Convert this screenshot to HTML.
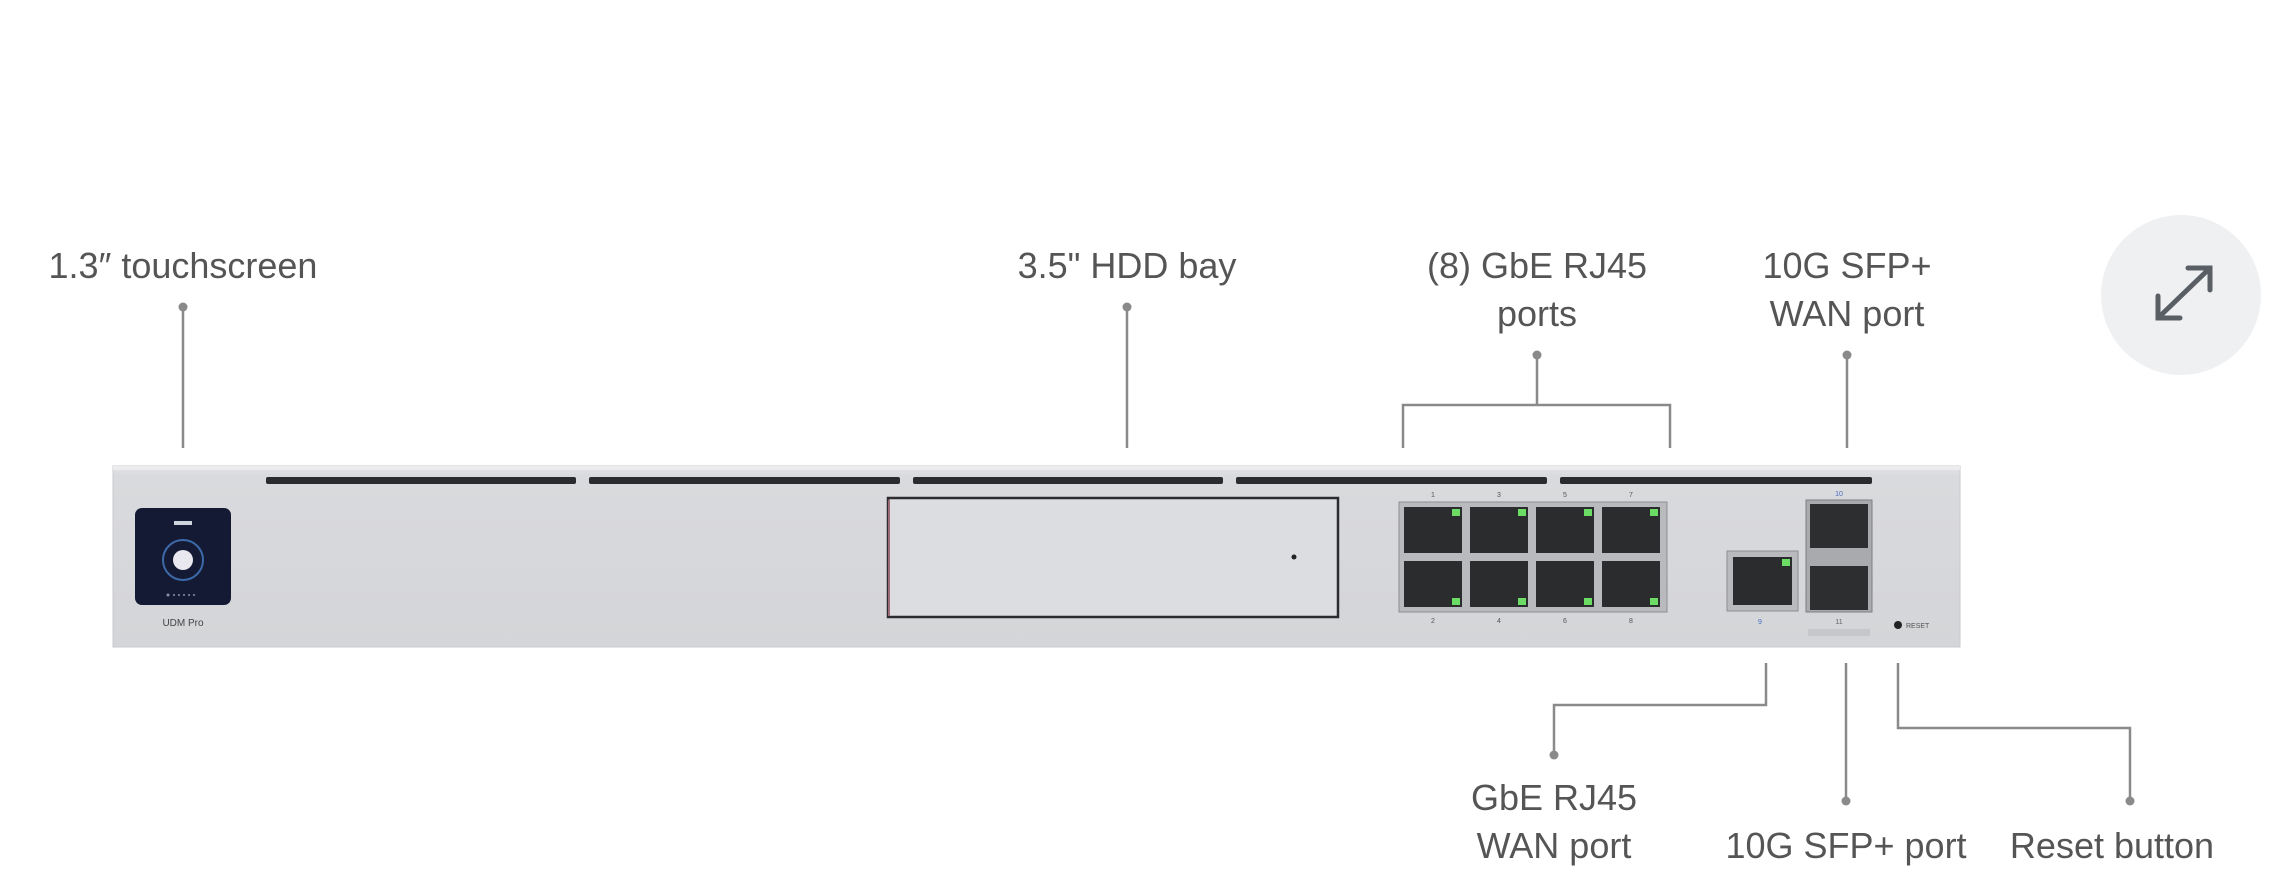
<!DOCTYPE html>
<html><head><meta charset="utf-8"><style>
html,body{margin:0;padding:0;background:#fff;width:2275px;height:894px;overflow:hidden}
svg{display:block}
text{font-family:"Liberation Sans",sans-serif;fill:#555}
</style></head><body>
<svg width="2275" height="894" viewBox="0 0 2275 894" xmlns="http://www.w3.org/2000/svg">
<defs>
<linearGradient id="dev" x1="0" y1="0" x2="0" y2="1">
<stop offset="0" stop-color="#e6e7ea"/><stop offset="0.05" stop-color="#d9dadd"/><stop offset="1" stop-color="#d4d5d8"/>
</linearGradient>
</defs>
<!-- labels -->
<g font-size="36" text-anchor="middle">
<text x="183" y="278">1.3″ touchscreen</text>
<text x="1127" y="278">3.5" HDD bay</text>
<text x="1537" y="278">(8) GbE RJ45</text>
<text x="1537" y="326">ports</text>
<text x="1847" y="278">10G SFP+</text>
<text x="1847" y="326">WAN port</text>
<text x="1554" y="810">GbE RJ45</text>
<text x="1554" y="858">WAN port</text>
<text x="1846" y="858">10G SFP+ port</text>
<text x="2112" y="858">Reset button</text>
</g>
<!-- connectors -->
<g stroke="#8a8a8a" stroke-width="2.5" fill="none">
<line x1="183" y1="307" x2="183" y2="448"/>
<line x1="1127" y1="307" x2="1127" y2="448"/>
<polyline points="1537,355 1537,405"/>
<polyline points="1403,448 1403,405 1670,405 1670,448"/>
<line x1="1847" y1="355" x2="1847" y2="448"/>
<polyline points="1766,663 1766,705 1554,705 1554,755"/>
<line x1="1846" y1="663" x2="1846" y2="801"/>
<polyline points="1898,663 1898,728 2130,728 2130,801"/>
</g>
<g fill="#8a8a8a">
<circle cx="183" cy="307" r="4.5"/><circle cx="1127" cy="307" r="4.5"/>
<circle cx="1537" cy="355" r="4.5"/><circle cx="1847" cy="355" r="4.5"/>
<circle cx="1554" cy="755" r="4.5"/><circle cx="1846" cy="801" r="4.5"/><circle cx="2130" cy="801" r="4.5"/>
</g>
<!-- expand button -->
<circle cx="2181" cy="295" r="80" fill="#eff0f2"/>
<g stroke="#5a5f66" stroke-width="5" fill="none" stroke-linecap="round">
<line x1="2158" y1="318" x2="2210" y2="268"/>
<polyline points="2188,268 2210,268 2210,290"/>
<polyline points="2158,296 2158,318 2180,318"/>
</g>
<!-- device -->
<rect x="113" y="466" width="1847" height="181" fill="url(#dev)" stroke="#c9cacd" stroke-width="1"/>
<rect x="113" y="466" width="1847" height="4" fill="#ececee"/>
<g fill="#2a2b2e">
<rect x="266" y="477" width="310" height="7" rx="2"/>
<rect x="589" y="477" width="311" height="7" rx="2"/>
<rect x="913" y="477" width="310" height="7" rx="2"/>
<rect x="1236" y="477" width="311" height="7" rx="2"/>
<rect x="1560" y="477" width="312" height="7" rx="2"/>
</g>
<!-- screen -->
<rect x="135" y="508" width="96" height="97" rx="7" fill="#141a33"/>
<circle cx="183" cy="560" r="20" fill="none" stroke="#3c6aa8" stroke-width="2"/>
<circle cx="183" cy="560" r="10" fill="#e8e8ee"/>
<rect x="174" y="521" width="18" height="4" fill="#cfd3dd"/>
<g fill="#8890a8"><circle cx="168" cy="595" r="1.5"/><circle cx="174" cy="595" r="1"/><circle cx="179" cy="595" r="1"/><circle cx="184" cy="595" r="1"/><circle cx="189" cy="595" r="1"/><circle cx="194" cy="595" r="1"/></g>
<text x="183" y="626" font-size="10" text-anchor="middle" style="fill:#444">UDM Pro</text>
<!-- HDD -->
<rect x="888" y="498" width="450" height="119" fill="#dcdde0" stroke="#2c2c2e" stroke-width="2.5"/>
<line x1="889" y1="500" x2="889" y2="616" stroke="#9b6b78" stroke-width="2"/>
<circle cx="1294" cy="557" r="2.5" fill="#222"/>
<!-- RJ45 block -->
<rect x="1399" y="502" width="268" height="110" fill="#b9babd" stroke="#8d8e91"/>
<g fill="#2b2c2e">
<rect x="1404" y="507" width="58" height="46"/><rect x="1470" y="507" width="58" height="46"/><rect x="1536" y="507" width="58" height="46"/><rect x="1602" y="507" width="58" height="46"/>
<rect x="1404" y="561" width="58" height="46"/><rect x="1470" y="561" width="58" height="46"/><rect x="1536" y="561" width="58" height="46"/><rect x="1602" y="561" width="58" height="46"/>
</g>
<g fill="#6bdc64">
<rect x="1452" y="509" width="8" height="7"/><rect x="1518" y="509" width="8" height="7"/><rect x="1584" y="509" width="8" height="7"/><rect x="1650" y="509" width="8" height="7"/>
<rect x="1452" y="598" width="8" height="7"/><rect x="1518" y="598" width="8" height="7"/><rect x="1584" y="598" width="8" height="7"/><rect x="1650" y="598" width="8" height="7"/>
</g>
<g font-size="7" text-anchor="middle" style="fill:#666">
<text x="1433" y="497">1</text><text x="1499" y="497">3</text><text x="1565" y="497">5</text><text x="1631" y="497">7</text>
<text x="1433" y="623">2</text><text x="1499" y="623">4</text><text x="1565" y="623">6</text><text x="1631" y="623">8</text>
</g>
<!-- WAN RJ45 -->
<rect x="1727" y="551" width="71" height="60" fill="#b9babd" stroke="#8d8e91"/>
<rect x="1733" y="557" width="59" height="48" fill="#2b2c2e"/>
<rect x="1782" y="559" width="8" height="7" fill="#6bdc64"/>
<text x="1760" y="624" font-size="7" text-anchor="middle" style="fill:#4a6cc0">9</text>
<!-- SFP -->
<rect x="1806" y="500" width="66" height="112" fill="#a9aaad" stroke="#7d7e81"/>
<rect x="1810" y="504" width="58" height="44" fill="#2d2e30"/>
<rect x="1810" y="566" width="58" height="44" fill="#2d2e30"/>
<rect x="1808" y="629" width="62" height="7" fill="#c6c7ca"/>
<text x="1839" y="496" font-size="7" text-anchor="middle" style="fill:#4a6cc0">10</text>
<text x="1839" y="624" font-size="7" text-anchor="middle" style="fill:#666">11</text>
<!-- reset -->
<circle cx="1898" cy="625" r="4" fill="#222"/>
<text x="1906" y="628" font-size="7" style="fill:#555">RESET</text>
</svg>
</body></html>
